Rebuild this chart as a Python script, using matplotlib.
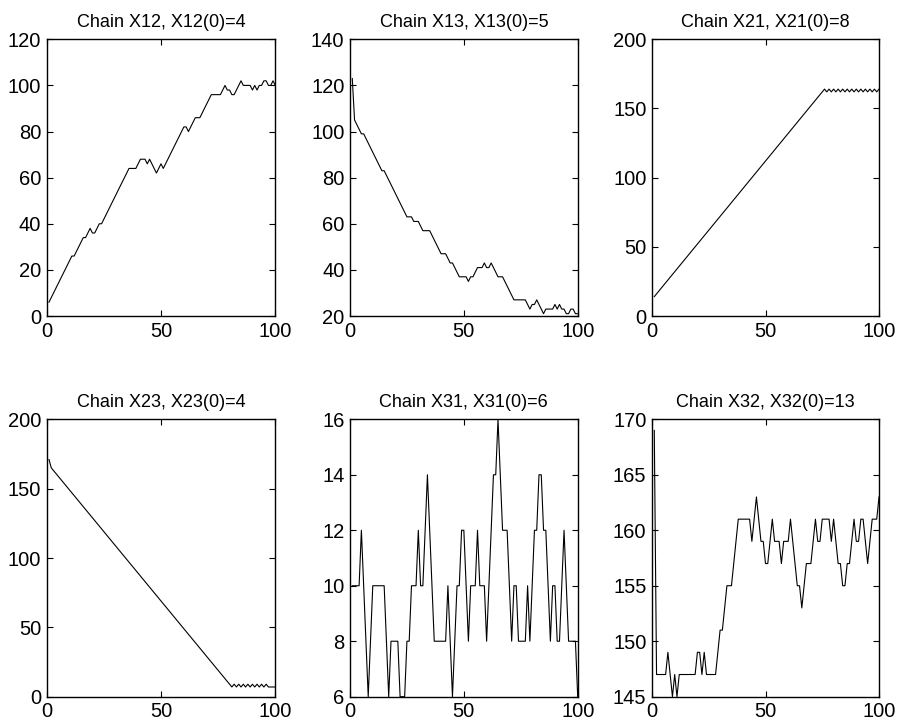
import numpy as np
import matplotlib
matplotlib.use("Agg")
import matplotlib.pyplot as plt

plt.rcParams['font.family'] = ['Liberation Sans', 'DejaVu Sans']

iters = np.arange(1, 101)

x12 = [6, 8, 10, 12, 14, 16, 18, 20, 22, 24, 26, 26, 28, 30, 32, 34, 34, 36, 38, 36,
       36, 38, 40, 40, 42, 44, 46, 48, 50, 52, 54, 56, 58, 60, 62, 64, 64, 64, 64, 66,
       68, 68, 68, 66, 68, 66, 64, 62, 64, 66, 64, 66, 68, 70, 72, 74, 76, 78, 80, 82,
       82, 80, 82, 84, 86, 86, 86, 88, 90, 92, 94, 96, 96, 96, 96, 96, 98, 100, 98, 98,
       96, 96, 98, 100, 102, 100, 100, 100, 100, 98, 100, 98, 100, 100, 102, 102, 100, 100, 102, 100]

x13 = [123, 105, 103, 101, 99, 99, 97, 95, 93, 91, 89, 87, 85, 83, 83, 81, 79, 77, 75, 73,
       71, 69, 67, 65, 63, 63, 63, 61, 61, 61, 59, 57, 57, 57, 57, 55, 53, 51, 49, 47,
       47, 47, 45, 43, 43, 41, 39, 37, 37, 37, 37, 35, 37, 37, 39, 41, 41, 41, 43, 41,
       41, 43, 41, 39, 37, 37, 37, 35, 33, 31, 29, 27, 27, 27, 27, 27, 27, 25, 23, 25,
       25, 27, 25, 23, 21, 23, 23, 23, 23, 25, 23, 25, 23, 23, 21, 21, 23, 23, 21, 21]

x21 = [14, 16, 18, 20, 22, 24, 26, 28, 30, 32, 34, 36, 38, 40, 42, 44, 46, 48, 50, 52,
       54, 56, 58, 60, 62, 64, 66, 68, 70, 72, 74, 76, 78, 80, 82, 84, 86, 88, 90, 92,
       94, 96, 98, 100, 102, 104, 106, 108, 110, 112, 114, 116, 118, 120, 122, 124, 126, 128, 130, 132,
       134, 136, 138, 140, 142, 144, 146, 148, 150, 152, 154, 156, 158, 160, 162, 164, 162, 164, 162, 164,
       162, 164, 162, 164, 162, 164, 162, 164, 162, 164, 162, 164, 162, 164, 162, 164, 162, 164, 162, 164]

x23 = [171, 165, 163, 161, 159, 157, 155, 153, 151, 149, 147, 145, 143, 141, 139, 137, 135, 133, 131, 129,
       127, 125, 123, 121, 119, 117, 115, 113, 111, 109, 107, 105, 103, 101, 99, 97, 95, 93, 91, 89,
       87, 85, 83, 81, 79, 77, 75, 73, 71, 69, 67, 65, 63, 61, 59, 57, 55, 53, 51, 49,
       47, 45, 43, 41, 39, 37, 35, 33, 31, 29, 27, 25, 23, 21, 19, 17, 15, 13, 11, 9,
       7, 9, 7, 9, 7, 9, 7, 9, 7, 9, 7, 9, 7, 9, 7, 9, 7, 7, 7, 7]

x31 = [10, 10, 10, 10, 12, 10, 8, 6, 8, 10, 10, 10, 10, 10, 10, 8, 6, 8, 8, 8,
       8, 6, 6, 6, 8, 8, 10, 10, 10, 12, 10, 10, 12, 14, 12, 10, 8, 8, 8, 8,
       8, 8, 10, 8, 6, 8, 10, 10, 12, 12, 10, 8, 10, 10, 10, 12, 10, 10, 10, 8,
       10, 12, 14, 14, 16, 14, 12, 12, 12, 10, 8, 10, 10, 8, 8, 8, 8, 10, 8, 10,
       12, 12, 14, 14, 12, 12, 10, 8, 10, 10, 8, 8, 10, 12, 10, 8, 8, 8, 8, 6]

x32 = [169, 147, 147, 147, 147, 147, 149, 147, 145, 147, 145, 147, 147, 147, 147, 147, 147, 147, 147, 149,
       149, 147, 149, 147, 147, 147, 147, 147, 149, 151, 151, 153, 155, 155, 155, 157, 159, 161, 161, 161,
       161, 161, 161, 159, 161, 163, 161, 159, 159, 157, 157, 159, 161, 159, 159, 159, 157, 159, 159, 159,
       161, 159, 157, 155, 155, 153, 155, 157, 157, 157, 159, 161, 159, 159, 161, 161, 161, 161, 159, 161,
       159, 157, 157, 155, 155, 157, 157, 159, 161, 159, 159, 161, 161, 159, 157, 159, 161, 161, 161, 163]

titles = ["Chain X12, X12(0)=4", "Chain X13, X13(0)=5", "Chain X21, X21(0)=8",
          "Chain X23, X23(0)=4", "Chain X31, X31(0)=6", "Chain X32, X32(0)=13"]
series = [x12, x13, x21, x23, x31, x32]
ylims = [(0, 120), (20, 140), (0, 200), (0, 200), (6, 16), (145, 170)]
yticks = [[0, 20, 40, 60, 80, 100, 120], [20, 40, 60, 80, 100, 120, 140],
          [0, 50, 100, 150, 200], [0, 50, 100, 150, 200],
          [6, 8, 10, 12, 14, 16], [145, 150, 155, 160, 165, 170]]

W, H = 897, 727
fig = plt.figure(figsize=(W / 100, H / 100), dpi=100)

lefts = [46.7, 350, 652]
widths = [228.6, 227.7, 227]
tops = [39.3, 419.3]
bottoms = [316, 696.7]

for k in range(6):
    r, c = divmod(k, 3)
    ax = fig.add_axes([lefts[c] / W, 1 - bottoms[r] / H, widths[c] / W, (bottoms[r] - tops[r]) / H])
    ax.plot(iters, series[k], color='black', linewidth=0.8)
    ax.set_xlim(0, 100)
    ax.set_ylim(*ylims[k])
    ax.set_xticks([0, 50, 100])
    ax.set_yticks(yticks[k])
    ax.set_title(titles[k], fontsize=13, pad=9)
    ax.tick_params(direction='in', top=True, right=True, length=4, width=0.8,
                   labelsize=14.5, pad=4)
    for s in ax.spines.values():
        s.set_linewidth(1.0)

fig.savefig("out.png", dpi=100)
